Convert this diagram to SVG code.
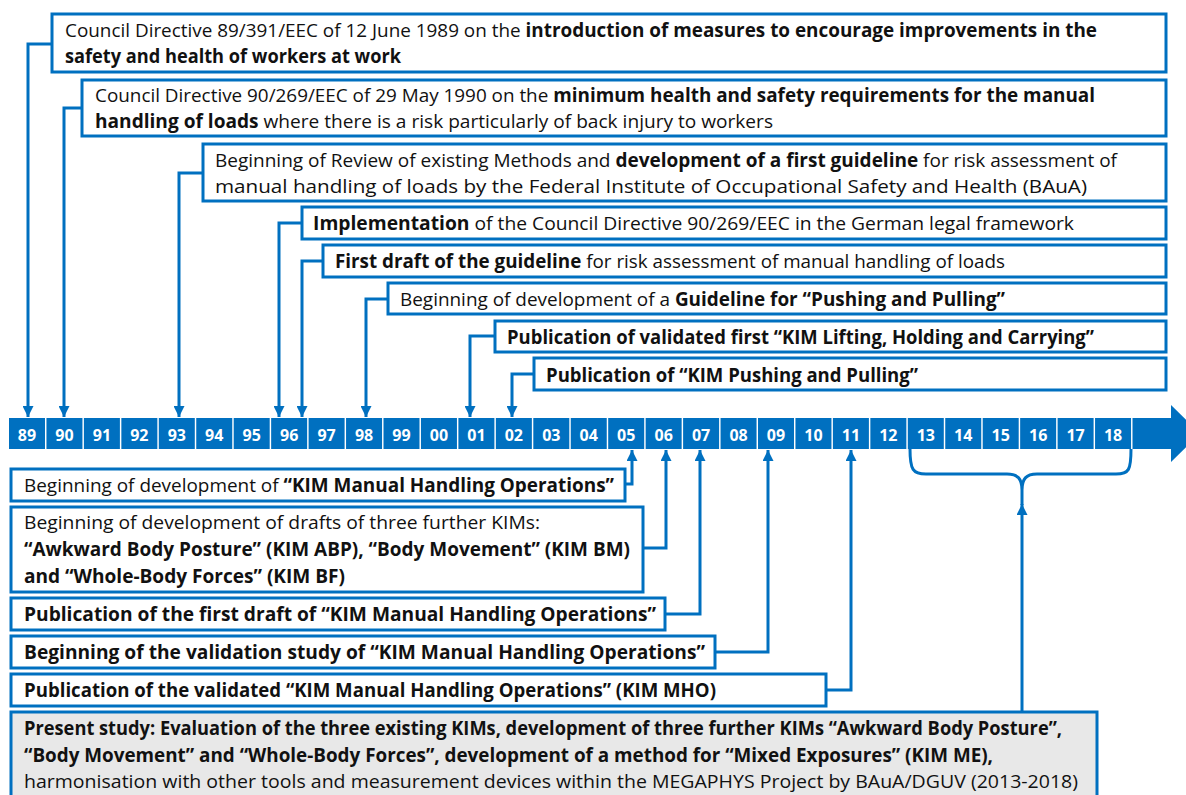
<svg xmlns="http://www.w3.org/2000/svg" width="1186" height="795" viewBox="0 0 1186 795">
<style>
.box{fill:#fff;stroke:#0070C0;stroke-width:3}
.gbox{fill:#E8E8E8;stroke:#0070C0;stroke-width:3}
.t{font-family:"Open Sans","Noto Sans","Liberation Sans",sans-serif;font-size:19px;fill:#111}
.b{font-weight:bold}
.cell{fill:#0070C0}
.yr{font-family:"Open Sans","Liberation Sans",sans-serif;font-size:16px;font-weight:bold;fill:#fff;text-anchor:middle}
.c{fill:none;stroke:#0070C0;stroke-width:3;stroke-linejoin:miter}
</style>
<defs>
<marker id="ah" viewBox="0 0 10 10" refX="10" refY="5" markerWidth="11" markerHeight="11" markerUnits="userSpaceOnUse" orient="auto">
<path d="M0,0 L10,5 L0,10 z" fill="#0070C0"/>
</marker>
</defs>

<g id="timeline">
<rect class="cell" x="9" y="418" width="36" height="31"/><text class="yr" x="27" y="441">89</text>
<rect class="cell" x="46.45" y="418" width="36" height="31"/><text class="yr" x="64.45" y="441">90</text>
<rect class="cell" x="83.9" y="418" width="36" height="31"/><text class="yr" x="101.9" y="441">91</text>
<rect class="cell" x="121.35" y="418" width="36" height="31"/><text class="yr" x="139.35" y="441">92</text>
<rect class="cell" x="158.8" y="418" width="36" height="31"/><text class="yr" x="176.8" y="441">93</text>
<rect class="cell" x="196.25" y="418" width="36" height="31"/><text class="yr" x="214.25" y="441">94</text>
<rect class="cell" x="233.7" y="418" width="36" height="31"/><text class="yr" x="251.7" y="441">95</text>
<rect class="cell" x="271.15" y="418" width="36" height="31"/><text class="yr" x="289.15" y="441">96</text>
<rect class="cell" x="308.6" y="418" width="36" height="31"/><text class="yr" x="326.6" y="441">97</text>
<rect class="cell" x="346.05" y="418" width="36" height="31"/><text class="yr" x="364.05" y="441">98</text>
<rect class="cell" x="383.5" y="418" width="36" height="31"/><text class="yr" x="401.5" y="441">99</text>
<rect class="cell" x="420.95" y="418" width="36" height="31"/><text class="yr" x="438.95" y="441">00</text>
<rect class="cell" x="458.4" y="418" width="36" height="31"/><text class="yr" x="476.4" y="441">01</text>
<rect class="cell" x="495.85" y="418" width="36" height="31"/><text class="yr" x="513.85" y="441">02</text>
<rect class="cell" x="533.3" y="418" width="36" height="31"/><text class="yr" x="551.3" y="441">03</text>
<rect class="cell" x="570.75" y="418" width="36" height="31"/><text class="yr" x="588.75" y="441">04</text>
<rect class="cell" x="608.2" y="418" width="36" height="31"/><text class="yr" x="626.2" y="441">05</text>
<rect class="cell" x="645.65" y="418" width="36" height="31"/><text class="yr" x="663.65" y="441">06</text>
<rect class="cell" x="683.1" y="418" width="36" height="31"/><text class="yr" x="701.1" y="441">07</text>
<rect class="cell" x="720.55" y="418" width="36" height="31"/><text class="yr" x="738.55" y="441">08</text>
<rect class="cell" x="758" y="418" width="36" height="31"/><text class="yr" x="776" y="441">09</text>
<rect class="cell" x="795.45" y="418" width="36" height="31"/><text class="yr" x="813.45" y="441">10</text>
<rect class="cell" x="832.9" y="418" width="36" height="31"/><text class="yr" x="850.9" y="441">11</text>
<rect class="cell" x="870.35" y="418" width="36" height="31"/><text class="yr" x="888.35" y="441">12</text>
<rect class="cell" x="907.8" y="418" width="36" height="31"/><text class="yr" x="925.8" y="441">13</text>
<rect class="cell" x="945.25" y="418" width="36" height="31"/><text class="yr" x="963.25" y="441">14</text>
<rect class="cell" x="982.7" y="418" width="36" height="31"/><text class="yr" x="1000.7" y="441">15</text>
<rect class="cell" x="1020.15" y="418" width="36" height="31"/><text class="yr" x="1038.15" y="441">16</text>
<rect class="cell" x="1057.6" y="418" width="36" height="31"/><text class="yr" x="1075.6" y="441">17</text>
<rect class="cell" x="1095.05" y="418" width="36" height="31"/><text class="yr" x="1113.05" y="441">18</text>
<path class="cell" d="M1132.5,418 H1171 V405 L1200,433.5 L1171,462 V449 H1132.5 z"/>
</g>

<g id="connectors">
<path class="c" d="M52,44 H28 V417" marker-end="url(#ah)"/>
<path class="c" d="M82,108 H64 V417" marker-end="url(#ah)"/>
<path class="c" d="M203,173 H179 V417" marker-end="url(#ah)"/>
<path class="c" d="M302,223 H279 V417" marker-end="url(#ah)"/>
<path class="c" d="M323,261 H302 V417" marker-end="url(#ah)"/>
<path class="c" d="M388,299 H366 V417" marker-end="url(#ah)"/>
<path class="c" d="M495,336 H470 V417" marker-end="url(#ah)"/>
<path class="c" d="M534,374 H512 V417" marker-end="url(#ah)"/>
<path class="c" d="M625,484 H632 V450" marker-end="url(#ah)"/>
<path class="c" d="M643,548 H666 V450" marker-end="url(#ah)"/>
<path class="c" d="M665,614 H700 V450" marker-end="url(#ah)"/>
<path class="c" d="M715,652 H768 V450" marker-end="url(#ah)"/>
<path class="c" d="M826,690 H851 V450" marker-end="url(#ah)"/>
<path class="c" d="M910,449 C910,470 913,474 926,474 L1007,474 C1018,474 1022,479 1022,490 C1022,479 1026,474 1037,474 L1116,474 C1129,474 1131,470 1131,449"/>
<path class="c" d="M1022,490 V505"/>
<path class="c" d="M1022,712 V504" marker-end="url(#ah)"/>
</g>

<g id="n1"><rect class="box" x="52" y="14" width="1114" height="58"/>
<text class="t" x="65" y="37" textLength="1032" lengthAdjust="spacingAndGlyphs">Council Directive 89/391/EEC of 12 June 1989 on the <tspan class="b">introduction of measures to encourage improvements in the</tspan></text>
<text class="t b" x="65" y="63" textLength="336" lengthAdjust="spacingAndGlyphs">safety and health of workers at work</text></g>

<g id="n2"><rect class="box" x="82" y="80" width="1084" height="56"/>
<text class="t" x="95" y="102" textLength="1000" lengthAdjust="spacingAndGlyphs">Council Directive 90/269/EEC of 29 May 1990 on the <tspan class="b">minimum health and safety requirements for the manual</tspan></text>
<text class="t" x="95" y="128" textLength="678" lengthAdjust="spacingAndGlyphs"><tspan class="b">handling of loads</tspan> where there is a risk particularly of back injury to workers</text></g>

<g id="n3"><rect class="box" x="203" y="144" width="963" height="57"/>
<text class="t" x="215" y="167" textLength="902" lengthAdjust="spacingAndGlyphs">Beginning of Review of existing Methods and <tspan class="b">development of a first guideline</tspan> for risk assessment of</text>
<text class="t" x="215" y="193" textLength="872" lengthAdjust="spacingAndGlyphs">manual handling of loads by the Federal Institute of Occupational Safety and Health (BAuA)</text></g>

<g id="n4"><rect class="box" x="302" y="207" width="864" height="32"/>
<text class="t" x="313" y="230" textLength="761" lengthAdjust="spacingAndGlyphs"><tspan class="b">Implementation</tspan> of the Council Directive 90/269/EEC in the German legal framework</text></g>

<g id="n5"><rect class="box" x="323" y="245" width="843" height="32"/>
<text class="t" x="335" y="268" textLength="670" lengthAdjust="spacingAndGlyphs"><tspan class="b">First draft of the guideline</tspan> for risk assessment of manual handling of loads</text></g>

<g id="n6"><rect class="box" x="388" y="283" width="778" height="31"/>
<text class="t" x="400" y="306" textLength="605" lengthAdjust="spacingAndGlyphs">Beginning of development of a <tspan class="b">Guideline for “Pushing and Pulling”</tspan></text></g>

<g id="n7"><rect class="box" x="495" y="321" width="671" height="31"/>
<text class="t b" x="507" y="344" textLength="587" lengthAdjust="spacingAndGlyphs">Publication of validated first “KIM Lifting, Holding and Carrying”</text></g>

<g id="n8"><rect class="box" x="534" y="358" width="632" height="32"/>
<text class="t b" x="546" y="382" textLength="372" lengthAdjust="spacingAndGlyphs">Publication of “KIM Pushing and Pulling”</text></g>

<g id="nA"><rect class="box" x="11" y="469" width="614" height="32"/>
<text class="t" x="24" y="492" textLength="590" lengthAdjust="spacingAndGlyphs">Beginning of development of <tspan class="b">“KIM Manual Handling Operations”</tspan></text></g>

<g id="nB"><rect class="box" x="11" y="507" width="632" height="85"/>
<text class="t" x="24" y="529" textLength="516" lengthAdjust="spacingAndGlyphs">Beginning of development of drafts of three further KIMs:</text>
<text class="t b" x="24" y="556" textLength="606" lengthAdjust="spacingAndGlyphs">“Awkward Body Posture” (KIM ABP), “Body Movement” (KIM BM)</text>
<text class="t b" x="24" y="583" textLength="321" lengthAdjust="spacingAndGlyphs">and “Whole-Body Forces” (KIM BF)</text></g>

<g id="nC"><rect class="box" x="11" y="598" width="654" height="32"/>
<text class="t b" x="24" y="621" textLength="632" lengthAdjust="spacingAndGlyphs">Publication of the first draft of “KIM Manual Handling Operations”</text></g>

<g id="nD"><rect class="box" x="11" y="636" width="704" height="32"/>
<text class="t b" x="24" y="659" textLength="681" lengthAdjust="spacingAndGlyphs">Beginning of the validation study of “KIM Manual Handling Operations”</text></g>

<g id="nE"><rect class="box" x="11" y="674" width="815" height="32"/>
<text class="t b" x="24" y="697" textLength="692" lengthAdjust="spacingAndGlyphs">Publication of the validated “KIM Manual Handling Operations” (KIM MHO)</text></g>

<g id="nF"><rect class="gbox" x="11" y="712" width="1086" height="95"/>
<text class="t b" x="24" y="735" textLength="1038" lengthAdjust="spacingAndGlyphs">Present study: Evaluation of the three existing KIMs, development of three further KIMs “Awkward Body Posture”,</text>
<text class="t b" x="24" y="762" textLength="969" lengthAdjust="spacingAndGlyphs">“Body Movement” and “Whole-Body Forces”, development of a method for “Mixed Exposures” (KIM ME),</text>
<text class="t" x="24" y="788" textLength="1054" lengthAdjust="spacingAndGlyphs">harmonisation with other tools and measurement devices within the MEGAPHYS Project by BAuA/DGUV (2013-2018)</text></g>
</svg>
